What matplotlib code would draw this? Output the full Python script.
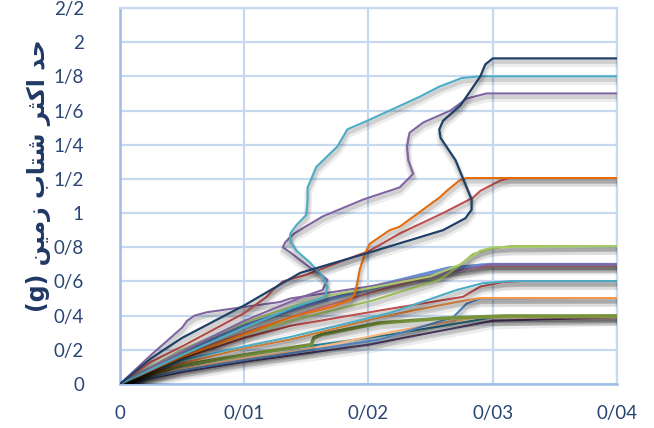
import matplotlib
matplotlib.use("Agg")
import matplotlib.pyplot as plt
import matplotlib.patheffects as pe

# tick labels use "/" as the decimal separator
x_ticks = [0, 0.01, 0.02, 0.03, 0.04]
x_labels = ["0", "0/01", "0/02", "0/03", "0/04"]
y_ticks = [0, 0.2, 0.4, 0.6, 0.8, 1.0, 1.2, 1.4, 1.6, 1.8, 2.0, 2.2]
y_labels = ["0", "0/2", "0/4", "0/6", "0/8", "1", "1/2", "1/4", "1/6", "1/8", "2", "2/2"]

# y label, shaped Arabic-script glyphs in visual order: "حد اکثر شتاب زمین (g)"
y_title = ("(g) \uFEE6\uFEF4\uFEE3\uFEAF \uFE8F\uFE8E\uFE98\uFEB7 "
           "\uFEAE\uFE9C\uFEDB\uFE8D \uFEAA\uFEA3")

# drift / PGA records
dpurple_x = [0, 0.005, 0.010, 0.015, 0.020, 0.025, 0.030, 0.040]
dpurple_y = [0, 0.07, 0.13, 0.18, 0.23, 0.30, 0.37, 0.39]

teal_x = [0, 0.005, 0.010, 0.015, 0.020, 0.026, 0.030, 0.040]
teal_y = [0, 0.10, 0.17, 0.22, 0.27, 0.34, 0.39, 0.40]

lorange_x = [0, 0.005, 0.010, 0.015, 0.0209, 0.026, 0.029, 0.040]
lorange_y = [0, 0.09, 0.15, 0.20, 0.29, 0.36, 0.39, 0.39]

dgreen_x = [0, 0.005, 0.010, 0.0154, 0.0156, 0.0162, 0.0209, 0.026, 0.031, 0.040]
dgreen_y = [0, 0.11, 0.17, 0.23, 0.27, 0.29, 0.357, 0.385, 0.398, 0.398]

blue05_x = [0, 0.005, 0.010, 0.0137, 0.0209, 0.0268, 0.0279, 0.029, 0.040]
blue05_y = [0, 0.08, 0.14, 0.18, 0.26, 0.39, 0.47, 0.50, 0.503]

orange05_x = [0, 0.005, 0.010, 0.0137, 0.0209, 0.0271, 0.029, 0.040]
orange05_y = [0, 0.12, 0.21, 0.26, 0.39, 0.48, 0.503, 0.503]

red06_x = [0, 0.005, 0.010, 0.0137, 0.0209, 0.0276, 0.029, 0.0308, 0.0325, 0.040]
red06_y = [0, 0.15, 0.27, 0.34, 0.43, 0.51, 0.57, 0.596, 0.602, 0.602]

aqua06_x = [0, 0.003, 0.0036, 0.005, 0.010, 0.0137, 0.0217, 0.0271, 0.0292, 0.0314, 0.040]
aqua06_y = [0, 0.11, 0.10, 0.14, 0.22, 0.275, 0.415, 0.55, 0.59, 0.602, 0.602]

lblue_x = [0, 0.005, 0.010, 0.015, 0.020, 0.025, 0.029, 0.040]
lblue_y = [0, 0.20, 0.35, 0.46, 0.55, 0.64, 0.70, 0.70]

red07_x = [0, 0.005, 0.010, 0.015, 0.0209, 0.0263, 0.0298, 0.040]
red07_y = [0, 0.17, 0.30, 0.42, 0.55, 0.655, 0.69, 0.69]

blue07_x = [0, 0.005, 0.010, 0.015, 0.0209, 0.0265, 0.0298, 0.040]
blue07_y = [0, 0.19, 0.34, 0.46, 0.58, 0.68, 0.70, 0.70]

purple07_x = [0, 0.0025, 0.0050, 0.0054, 0.0060, 0.0070, 0.0129, 0.0137, 0.020, 0.0266,
              0.0298, 0.040]
purple07_y = [0, 0.17, 0.33, 0.37, 0.40, 0.42, 0.48, 0.50, 0.57, 0.655,
              0.70, 0.70]

lgreen_b_x = [0, 0.005, 0.010, 0.0137, 0.0204, 0.0257, 0.0271, 0.0284, 0.0298, 0.0314, 0.040]
lgreen_b_y = [0, 0.16, 0.29, 0.37, 0.49, 0.61, 0.68, 0.76, 0.79, 0.807, 0.807]

lgreen_a_x = [0, 0.005, 0.010, 0.0137, 0.0169, 0.020, 0.025, 0.0274, 0.029, 0.030, 0.040]
lgreen_a_y = [0, 0.20, 0.36, 0.45, 0.52, 0.56, 0.63, 0.70, 0.78, 0.80, 0.807]

red12_x = [0, 0.0025, 0.005, 0.010, 0.0118, 0.0123, 0.0131, 0.0150, 0.0201, 0.0225, 0.0260,
           0.0284, 0.0290, 0.0306, 0.0314, 0.040]
red12_y = [0, 0.13, 0.22, 0.415, 0.51, 0.55, 0.60, 0.64, 0.78, 0.88, 1.00,
           1.09, 1.13, 1.19, 1.205, 1.205]

dorange_x = [0, 0.005, 0.010, 0.0137, 0.0170, 0.0185, 0.0189, 0.0191, 0.0193, 0.0197, 0.0201,
             0.0217, 0.0225, 0.0257, 0.0263, 0.0273, 0.0279, 0.040]
dorange_y = [0, 0.16, 0.29, 0.39, 0.45, 0.49, 0.53, 0.59, 0.67, 0.76, 0.82,
             0.90, 0.92, 1.09, 1.13, 1.19, 1.205, 1.205]

purple17_x = [0, 0.005, 0.010, 0.0147, 0.0163, 0.0167, 0.0160, 0.0153, 0.0137, 0.0131, 0.0133,
              0.0140, 0.0163, 0.0196, 0.0225, 0.0236, 0.0232, 0.0231, 0.0233, 0.0244, 0.0266,
              0.0279, 0.0295, 0.040]
purple17_y = [0, 0.19, 0.37, 0.51, 0.55, 0.61, 0.65, 0.68, 0.77, 0.80, 0.83,
              0.88, 0.98, 1.08, 1.15, 1.23, 1.31, 1.39, 1.47, 1.53, 1.60,
              1.67, 1.70, 1.70]

aqua18_x = [0, 0.005, 0.010, 0.014, 0.0165, 0.0167, 0.0163, 0.0153, 0.0142, 0.0137, 0.0137,
            0.0142, 0.0150, 0.0151, 0.0151, 0.0158, 0.0175, 0.0183, 0.0199, 0.0241, 0.0257,
            0.0275, 0.0290, 0.040]
aqua18_y = [0, 0.17, 0.33, 0.45, 0.51, 0.57, 0.63, 0.71, 0.78, 0.84, 0.88,
            0.93, 0.99, 1.08, 1.15, 1.27, 1.39, 1.49, 1.54, 1.68, 1.74,
            1.79, 1.80, 1.80]

navy_x = [0, 0.0025, 0.005, 0.010, 0.0145, 0.0201, 0.026, 0.0278, 0.0283, 0.0283, 0.0279,
          0.0270, 0.0258, 0.0257, 0.0260, 0.0274, 0.0290, 0.0294, 0.0300, 0.040]
navy_y = [0, 0.15, 0.27, 0.46, 0.65, 0.77, 0.90, 0.97, 1.02, 1.08, 1.15,
          1.31, 1.44, 1.49, 1.54, 1.63, 1.80, 1.87, 1.905, 1.905]

series = [
    (dpurple_x, dpurple_y, "#5f4a7e", 1.5),
    (teal_x, teal_y, "#31859c", 1.5),
    (lorange_x, lorange_y, "#fab57a", 1.5),
    (blue05_x, blue05_y, "#4f81bd", 1.5),
    (dgreen_x, dgreen_y, "#77933c", 2.6),
    (orange05_x, orange05_y, "#f79646", 1.5),
    (red06_x, red06_y, "#c0504d", 1.5),
    (aqua06_x, aqua06_y, "#4bacc6", 1.5),
    (lblue_x, lblue_y, "#8eb4e3", 1.5),
    (red07_x, red07_y, "#d9777a", 1.5),
    (blue07_x, blue07_y, "#6a8fcf", 2.2),
    (purple07_x, purple07_y, "#8064a2", 1.5),
    (lgreen_b_x, lgreen_b_y, "#9bbb59", 1.5),
    (lgreen_a_x, lgreen_a_y, "#a9c96a", 1.5),
    (red12_x, red12_y, "#c0504d", 1.5),
    (dorange_x, dorange_y, "#e46c0a", 1.5),
    (purple17_x, purple17_y, "#8064a2", 1.5),
    (aqua18_x, aqua18_y, "#4bacc6", 1.5),
    (navy_x, navy_y, "#1f3f66", 1.6),
]

grid_color = "#c6d9f1"
text_color = "#2a4674"

fig = plt.figure(figsize=(6.54, 4.28), dpi=100)
ax = fig.add_axes([0.1835, 0.1028, 0.7599, 0.8785])

for xs, ys, color, lw in series:
    shadow = [
        pe.SimpleLineShadow(offset=(0.5, -3.5), shadow_color="black", alpha=0.07, linewidth=lw + 4),
        pe.SimpleLineShadow(offset=(0.5, -2.5), shadow_color="black", alpha=0.12, linewidth=lw + 1.5),
        pe.Normal(),
    ]
    ax.plot(xs, ys, color=color, lw=lw, solid_joinstyle="round",
            solid_capstyle="butt", path_effects=shadow, zorder=3)

ax.set_xlim(0, 0.04)
ax.set_ylim(0, 2.2)
ax.set_xticks(x_ticks)
ax.set_xticklabels(x_labels)
ax.set_yticks(y_ticks)
ax.set_yticklabels(y_labels)

ax.grid(True, color=grid_color, lw=1.6, zorder=0)
ax.set_axisbelow(True)
for side in ["top", "right"]:
    ax.spines[side].set_color(grid_color)
    ax.spines[side].set_linewidth(1.6)
for side in ["left", "bottom"]:
    ax.spines[side].set_color("#9dbce6")
    ax.spines[side].set_linewidth(1.8)

ax.tick_params(length=0, labelcolor=text_color, labelsize=13.5)
ax.tick_params(axis="x", pad=15)
ax.tick_params(axis="y", pad=26)
for lab in ax.get_xticklabels() + ax.get_yticklabels():
    lab.set_family(["Lato", "DejaVu Sans"])

ax.set_ylabel(y_title, fontsize=17, fontweight="bold", color="#1f3864",
              family=["DejaVu Sans"])
ax.yaxis.set_label_coords(-0.138, 0.555)

fig.savefig("out.png", dpi=100)
